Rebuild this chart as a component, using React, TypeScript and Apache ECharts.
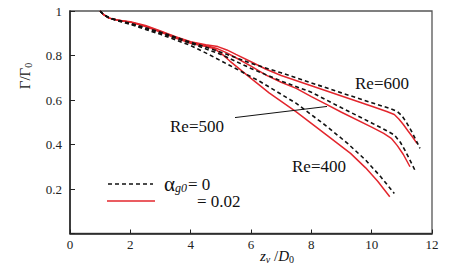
import React, { useEffect, useRef } from "react";
import * as echarts from "echarts";

const xTicks = [0, 2, 4, 6, 8, 10, 12];
const yTicks = [0.2, 0.4, 0.6, 0.8, 1];

const re600Dashed: [number, number][] = [
  [1, 1], [1.1, 0.985], [1.3, 0.97], [1.6, 0.958], [2, 0.945], [3, 0.905], [4, 0.86], [5, 0.815], [6, 0.765],
  [7, 0.722], [8, 0.677], [9, 0.632], [10, 0.588], [10.6, 0.562], [10.85, 0.548], [11.0, 0.53], [11.15, 0.5],
  [11.3, 0.465], [11.45, 0.425], [11.6, 0.383],
];
const re600Red: [number, number][] = [
  [1, 1], [1.1, 0.985], [1.3, 0.968], [1.6, 0.958], [2, 0.952], [2.5, 0.935], [3, 0.91], [3.5, 0.885],
  [4, 0.862], [4.5, 0.848], [4.9, 0.84], [5.2, 0.825], [5.5, 0.805], [6, 0.772], [6.5, 0.738], [7, 0.71],
  [8, 0.664], [9, 0.618], [10, 0.572], [10.5, 0.548], [10.75, 0.535], [10.9, 0.515], [11.05, 0.49],
  [11.2, 0.462], [11.35, 0.435], [11.5, 0.405],
];
const re500Dashed: [number, number][] = [
  [1, 1], [1.1, 0.985], [1.3, 0.968], [1.6, 0.956], [2, 0.942], [3, 0.9], [4, 0.855], [5, 0.805], [6, 0.742],
  [7, 0.685], [8, 0.635], [9, 0.565], [10, 0.497], [10.5, 0.462], [10.75, 0.443], [10.95, 0.41],
  [11.1, 0.375], [11.25, 0.335], [11.45, 0.28],
];
const re500Red: [number, number][] = [
  [1, 1], [1.1, 0.985], [1.3, 0.968], [1.6, 0.958], [2, 0.95], [2.5, 0.932], [3, 0.908], [3.5, 0.882],
  [4, 0.86], [4.5, 0.845], [4.9, 0.83], [5.2, 0.812], [5.5, 0.79], [6, 0.752], [6.5, 0.712], [7, 0.68],
  [7.5, 0.652], [8, 0.615], [8.5, 0.58], [9, 0.545], [10, 0.478], [10.4, 0.45], [10.65, 0.428],
  [10.85, 0.395], [11.05, 0.355], [11.27, 0.3],
];
const re400Dashed: [number, number][] = [
  [1, 1], [1.1, 0.985], [1.3, 0.968], [1.6, 0.955], [2, 0.94], [3, 0.895], [4, 0.845], [4.6, 0.805],
  [5.3, 0.755], [6.3, 0.683], [7.5, 0.585], [8.5, 0.483], [9.2, 0.405], [9.8, 0.33], [10.3, 0.255],
  [10.75, 0.18],
];
const re400Red: [number, number][] = [
  [1, 1], [1.1, 0.985], [1.3, 0.968], [1.6, 0.958], [2, 0.95], [2.5, 0.93], [3, 0.905], [3.5, 0.878],
  [4, 0.855], [4.5, 0.84], [4.8, 0.83], [5.05, 0.805], [5.3, 0.775], [6, 0.697], [6.6, 0.632],
  [7.5, 0.547], [8.5, 0.443], [9.3, 0.36], [9.8, 0.295], [10.2, 0.235], [10.6, 0.165],
];
const re500Leader: [number, number][] = [[5.47, 0.521], [8.52, 0.571]];

const SERIF = "'Times New Roman', 'Liberation Serif', serif";
const RED = "#e3262d";
const BLACK = "#111";
const TXT = "#111";

export default function App() {
  const ref = useRef<HTMLDivElement>(null);
  useEffect(() => {
    if (!ref.current) return;
    const chart = echarts.init(ref.current, undefined, { renderer: "svg" });
    const dashed = (data: [number, number][]) => ({
      type: "line",
      data,
      showSymbol: false,
      lineStyle: { color: BLACK, width: 1.6, type: [4, 3] },
      z: 3,
    });
    const solid = (data: [number, number][]) => ({
      type: "line",
      data,
      showSymbol: false,
      lineStyle: { color: RED, width: 1.5 },
      z: 2,
    });
    const label = (text: string, x: number, y: number) => ({
      type: "text", x, y,
      style: { text, fontFamily: SERIF, fontSize: 17, fill: TXT, verticalAlign: "middle" },
    });
    chart.setOption({
      animation: false,
      backgroundColor: "#fff",
      textStyle: { fontFamily: SERIF },
      grid: {
        left: 70, top: 11, width: 362, height: 222.5,
        show: true, borderColor: "#555", borderWidth: 1.3,
      },
      xAxis: {
        type: "value", min: 0, max: 12, interval: 2,
        axisLine: { lineStyle: { color: "#222", width: 1.5 } },
        axisTick: { inside: true, length: 4, lineStyle: { color: "#222" } },
        splitLine: { show: false },
        axisLabel: {
          color: "#222", fontFamily: SERIF, fontSize: 13, margin: 4,
          formatter: (v: number) => (xTicks.includes(v) ? String(v) : ""),
        },
      },
      yAxis: {
        type: "value", min: 0, max: 1, interval: 0.2,
        axisLine: { lineStyle: { color: "#222", width: 1.5 } },
        axisTick: { inside: true, length: 5, lineStyle: { color: "#222" } },
        splitLine: { show: false },
        axisLabel: {
          color: "#222", fontFamily: SERIF, fontSize: 13, margin: 8,
          formatter: (v: number) => {
            const r = +v.toFixed(1);
            return yTicks.includes(r) ? String(r) : "";
          },
        },
      },
      series: [
        solid(re600Red), dashed(re600Dashed),
        solid(re500Red), dashed(re500Dashed),
        solid(re400Red), dashed(re400Dashed),
        {
          type: "line", data: re500Leader, showSymbol: false,
          lineStyle: { color: BLACK, width: 1 }, z: 4,
        },
      ],
      graphic: [
        label("Re=600", 355, 83),
        label("Re=500", 170, 126),
        label("Re=400", 292, 166),
        {
          type: "line", shape: { x1: 108, y1: 184, x2: 153, y2: 184 },
          style: { stroke: BLACK, lineWidth: 1.6, lineDash: [4, 3] },
        },
        {
          type: "line", shape: { x1: 107, y1: 201, x2: 155, y2: 201 },
          style: { stroke: RED, lineWidth: 1.5 },
        },
        {
          type: "text", x: 164, y: 184,
          style: {
            text: "{a|α}{s|g0}{b|= 0}",
            verticalAlign: "middle",
            rich: {
              a: { fontFamily: SERIF, fontSize: 21, fill: TXT },
              s: { fontFamily: SERIF, fontStyle: "italic", fontSize: 12, fill: TXT, padding: [8, 1, 0, 0] },
              b: { fontFamily: SERIF, fontSize: 17, fill: TXT },
            },
          },
        },
        label("= 0.02", 197, 201),
        {
          type: "text", x: 25, y: 76, rotation: Math.PI / 2,
          style: {
            text: "{a|Γ/Γ}{s|0}",
            align: "center", verticalAlign: "middle",
            rich: {
              a: { fontFamily: SERIF, fontSize: 15, fill: TXT },
              s: { fontFamily: SERIF, fontSize: 10, fill: TXT, padding: [7, 0, 0, 0] },
            },
          },
        },
        {
          type: "text", x: 277, y: 256,
          style: {
            text: "{i|z}{s|v}{n| /}{i|D}{t|0}",
            align: "center", verticalAlign: "middle",
            rich: {
              i: { fontFamily: SERIF, fontStyle: "italic", fontSize: 15, fill: TXT },
              s: { fontFamily: SERIF, fontStyle: "italic", fontSize: 10, fill: TXT, padding: [6, 0, 0, 0] },
              n: { fontFamily: SERIF, fontSize: 15, fill: TXT },
              t: { fontFamily: SERIF, fontSize: 10, fill: TXT, padding: [6, 0, 0, 0] },
            },
          },
        },
      ],
    });
    return () => chart.dispose();
  }, []);
  return (
    <div
      ref={ref}
      style={{ position: "absolute", left: 0, top: 0, width: 456, height: 267 }}
    />
  );
}
